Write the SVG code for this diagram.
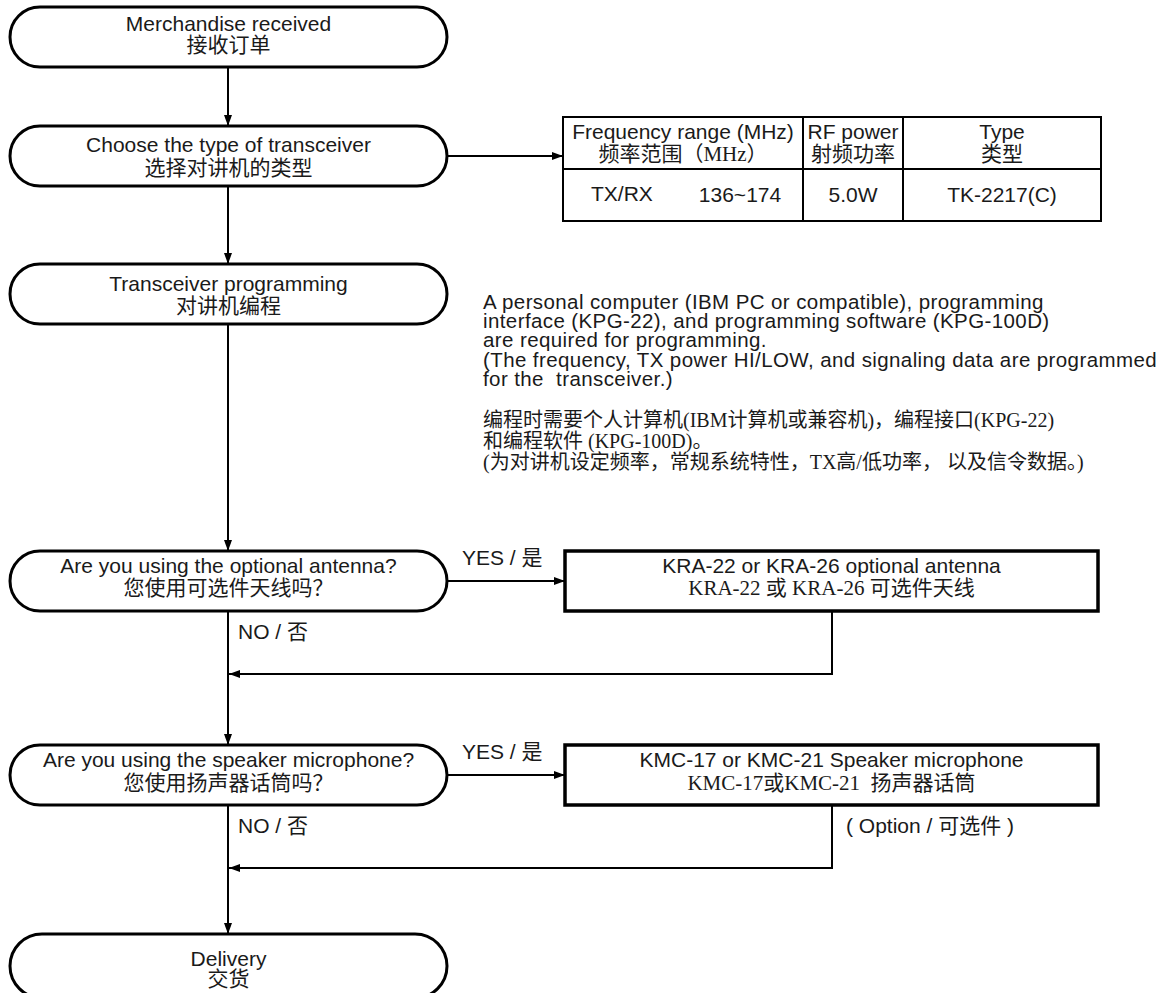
<svg xmlns="http://www.w3.org/2000/svg" width="1172" height="993" viewBox="0 0 1172 993">
<defs>
<style>
.bg{fill:#ffffff}
.term{fill:#ffffff;stroke:#000;stroke-width:3}
.box{fill:#ffffff;stroke:#000;stroke-width:3.5}
.tbl{fill:none;stroke:#000;stroke-width:2}
.conn{fill:none;stroke:#000;stroke-width:2}
text{fill:#1a1a1a}
.s{font-family:"Liberation Sans","Noto Sans CJK SC",sans-serif;font-size:21px}
.r{font-family:"Liberation Serif","Noto Sans CJK SC",serif;font-size:21px}
.c{text-anchor:middle}
.d{font-family:"Liberation Sans","Noto Sans CJK SC",sans-serif;font-size:20.5px;letter-spacing:0.4px}
.dr{font-family:"Liberation Serif","Noto Sans CJK SC",serif;font-size:20px}
.pre{white-space:pre}
</style>
<marker id="ah" markerWidth="11" markerHeight="8" refX="11" refY="4" orient="auto" markerUnits="userSpaceOnUse">
<path d="M0,0 L11,4 L0,8 z" fill="#000"/>
</marker>
</defs>
<rect class="bg" x="0" y="0" width="1172" height="993"/>

<g id="connectors">
<path class="conn" d="M228 67 V126" marker-end="url(#ah)"/>
<path class="conn" d="M228 186 V264" marker-end="url(#ah)"/>
<path class="conn" d="M447 156 H563" marker-end="url(#ah)"/>
<path class="conn" d="M228 324 V551" marker-end="url(#ah)"/>
<path class="conn" d="M447 581 H565" marker-end="url(#ah)"/>
<path class="conn" d="M228 611 V745" marker-end="url(#ah)"/>
<path class="conn" d="M832 611 V674 H229" marker-end="url(#ah)"/>
<path class="conn" d="M447 775 H565" marker-end="url(#ah)"/>
<path class="conn" d="M228 805 V934" marker-end="url(#ah)"/>
<path class="conn" d="M832 805 V868 H229" marker-end="url(#ah)"/>
</g>

<g id="n1">
<rect class="term" x="10" y="7" width="437" height="60" rx="30"/>
<text class="s c" x="228.5" y="31">Merchandise received</text>
<text class="s c" x="228.5" y="52">接收订单</text>
</g>

<g id="n2">
<rect class="term" x="10" y="126" width="437" height="60" rx="30"/>
<text class="s c" x="228.5" y="152">Choose the type of transceiver</text>
<text class="s c" x="228.5" y="175">选择对讲机的类型</text>
</g>

<g id="table">
<rect class="tbl" x="563" y="117" width="538" height="104"/>
<path class="tbl" d="M563 169 H1101 M803 117 V221 M903 117 V221"/>
<text class="s c" x="683" y="139">Frequency range (MHz)</text>
<text class="r c" x="683" y="161">频率范围（MHz）</text>
<text class="s c" x="853" y="139">RF power</text>
<text class="s c" x="853" y="161">射频功率</text>
<text class="s c" x="1002" y="139">Type</text>
<text class="s c" x="1002" y="161">类型</text>
<text class="s" x="591" y="201">TX/RX</text>
<text class="s c" x="740" y="202">136~174</text>
<text class="s c" x="853" y="202">5.0W</text>
<text class="s c" x="1002" y="202">TK-2217(C)</text>
</g>

<g id="n3">
<rect class="term" x="10" y="264" width="437" height="60" rx="30"/>
<text class="s c" x="228.5" y="291">Transceiver programming</text>
<text class="s c" x="228.5" y="313">对讲机编程</text>
</g>

<g id="note">
<text class="d" x="483" y="309">A personal computer (IBM PC or compatible), programming</text>
<text class="d" x="483" y="328">interface (KPG-22), and programming software (KPG-100D)</text>
<text class="d" x="483" y="347">are required for programming.</text>
<text class="d" x="483" y="367">(The frequency, TX power HI/LOW, and signaling data are programmed</text>
<text class="d pre" x="483" y="386">for the  transceiver.)</text>
<text class="dr" x="483" y="427">编程时需要个人计算机(IBM计算机或兼容机)，编程接口(KPG-22)</text>
<text class="dr" x="483" y="448">和编程软件 (KPG-100D)。</text>
<text class="dr" x="483" y="469">(为对讲机设定频率，常规系统特性，TX高/低功率， 以及信令数据。)</text>
</g>

<g id="n4">
<rect class="term" x="10" y="551" width="437" height="60" rx="30"/>
<text class="s c" x="228.5" y="573">Are you using the optional antenna?</text>
<text class="s c" x="228.5" y="595">您使用可选件天线吗？</text>
</g>

<g id="labels">
<text class="s" x="462" y="565">YES / 是</text>
<text class="s" x="238" y="639">NO / 否</text>
<text class="s" x="462" y="759">YES / 是</text>
<text class="s" x="238" y="833">NO / 否</text>
<text class="s pre" x="846" y="833">( Option / 可选件 )</text>
</g>

<g id="b1">
<rect class="box" x="565" y="551" width="533" height="60"/>
<text class="s c" x="831.5" y="573">KRA-22 or KRA-26 optional antenna</text>
<text class="r c" x="831.5" y="595">KRA-22 或 KRA-26 可选件天线</text>
</g>

<g id="n5">
<rect class="term" x="10" y="745" width="437" height="60" rx="30"/>
<text class="s c" x="228.5" y="767">Are you using the speaker microphone?</text>
<text class="s c" x="228.5" y="790">您使用扬声器话筒吗？</text>
</g>

<g id="b2">
<rect class="box" x="565" y="745" width="533" height="60"/>
<text class="s c" x="831.5" y="767">KMC-17 or KMC-21 Speaker microphone</text>
<text class="r c pre" x="831.5" y="790">KMC-17或KMC-21  扬声器话筒</text>
</g>

<g id="n6">
<rect class="term" x="10" y="934" width="437" height="64" rx="32"/>
<text class="s c" x="228.5" y="966">Delivery</text>
<text class="s c" x="228.5" y="986">交货</text>
</g>
</svg>
